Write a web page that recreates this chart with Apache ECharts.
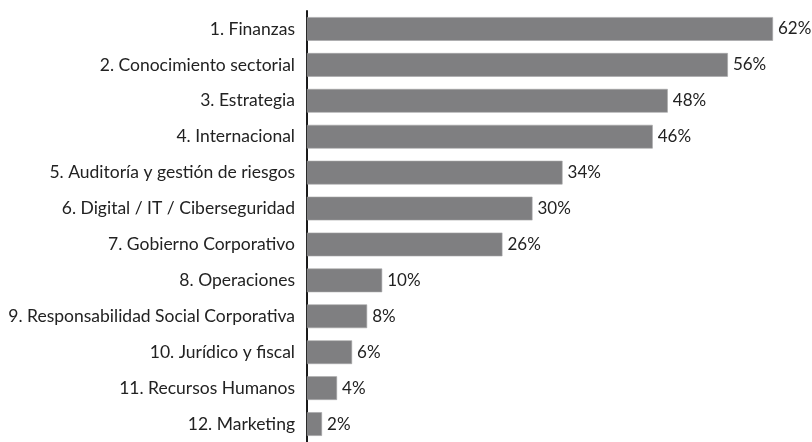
<!DOCTYPE html>
<html><head><meta charset="utf-8">
<script src="https://cdn.jsdelivr.net/npm/echarts@6/dist/echarts.min.js"></script>
<style>html,body{margin:0;padding:0;background:#fff}#c{width:812px;height:442px}</style>
</head><body><div id="c"></div>
<script>
const categories = ["1. Finanzas","2. Conocimiento sectorial","3. Estrategia","4. Internacional","5. Auditoría y gestión de riesgos","6. Digital / IT / Ciberseguridad","7. Gobierno Corporativo","8. Operaciones","9. Responsabilidad Social Corporativa","10. Jurídico y fiscal","11. Recursos Humanos","12. Marketing"];
const values = [62,56,48,46,34,30,26,10,8,6,4,2];
const chart = echarts.init(document.getElementById('c'), null, {renderer:'canvas'});
const FONT = 'Lato';
chart.setOption({
  animation:false,
  grid:{left:307,right:39,top:11,bottom:-6,containLabel:false},
  xAxis:{type:'value',min:0,max:62,show:false},
  yAxis:{type:'category',data:categories,inverse:true,
    axisLine:{show:true,lineStyle:{color:'#1a1a1a',width:2}},
    axisTick:{show:false},
    axisLabel:{color:'#222',fontFamily:FONT,fontSize:17.5,margin:12}},
  series:[{type:'bar',data:values,barCategoryGap:'34%',
    itemStyle:{color:'#7f7f81',borderColor:'#a6a6a8',borderWidth:0.6},
    label:{show:true,position:'right',distance:5,formatter:'{c}%',color:'#222',fontFamily:FONT,fontSize:17}}]
});
</script></body></html>
